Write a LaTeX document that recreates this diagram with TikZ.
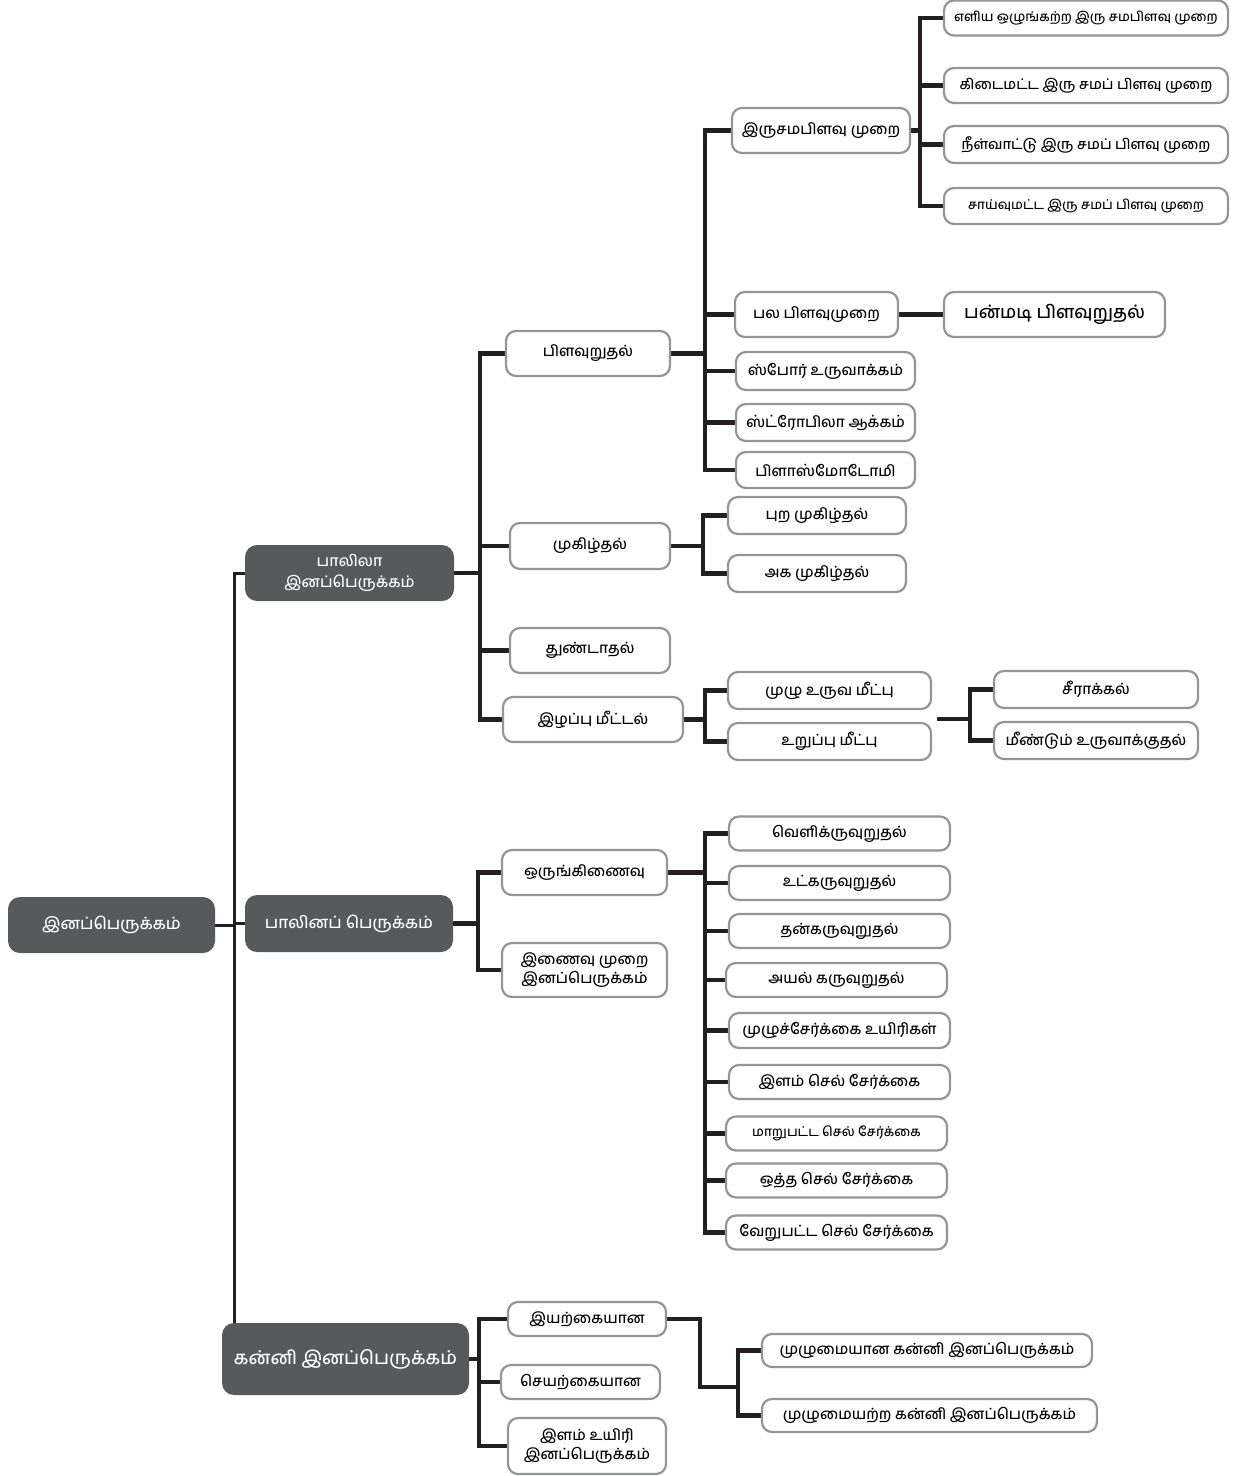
\documentclass[tikz,border=0pt]{standalone}
\usepackage{fontspec}
\setmainfont[Script=Tamil, UprightFont=* Medium]{Hind Madurai}
\usetikzlibrary{backgrounds}
\definecolor{boxgray}{HTML}{939598}
\definecolor{darkbox}{HTML}{58595B}
\definecolor{lineblack}{HTML}{231F20}
\begin{document}
\begin{tikzpicture}[x=1pt,y=-1pt,
  wbox/.style={draw=boxgray, line width=2.2pt, rounded corners=10pt, fill=white, inner sep=0pt, align=center, text=black, font=\fontsize{15}{19}\selectfont},
  dbox/.style={fill=darkbox, rounded corners=12pt, inner sep=0pt, align=center, text=white, font=\fontsize{16.5}{21}\selectfont},
  conn/.style={line width=4.5pt, draw=lineblack},
  rconn/.style={line width=3pt, draw=lineblack}]
\useasboundingbox (0,0) rectangle (1240,1476);
% level 0 / 1
\node[dbox, minimum width=207, minimum height=56] (root) at (111.5,925) {இனப்பெருக்கம்};
\node[dbox, minimum width=209, minimum height=56, font=\fontsize{15.5}{21}\selectfont] (palila) at (349.5,573) {பாலிலா\\இனப்பெருக்கம்};
\node[dbox, minimum width=208, minimum height=57] (palinap) at (349,923.5) {பாலினப் பெருக்கம்};
\node[dbox, minimum width=247, minimum height=72, font=\fontsize{18.5}{24}\selectfont] (kanni) at (345.5,1359) {கன்னி இனப்பெருக்கம்};
% asexual
\node[wbox, minimum width=164, minimum height=45] (pilavu) at (588,353.5) {பிளவுறுதல்};
\node[wbox, minimum width=160, minimum height=46] (mukil) at (590,546) {முகிழ்தல்};
\node[wbox, minimum width=160, minimum height=45] (thund) at (590,650.5) {துண்டாதல்};
\node[wbox, minimum width=180, minimum height=45] (ilappu) at (593,719.5) {இழப்பு மீட்டல்};
\node[wbox, minimum width=178, minimum height=45] (irusama) at (821,130.5) {இருசமபிளவு முறை};
\node[wbox, minimum width=163, minimum height=45] (pala) at (816.5,314.5) {பல பிளவுமுறை};
\node[wbox, minimum width=179, minimum height=38] (spore) at (825.5,371) {ஸ்போர் உருவாக்கம்};
\node[wbox, minimum width=179, minimum height=37] (strob) at (825.5,422.5) {ஸ்ட்ரோபிலா ஆக்கம்};
\node[wbox, minimum width=179, minimum height=36] (plasmo) at (825.5,470) {பிளாஸ்மோடோமி};
\node[wbox, minimum width=284, minimum height=35, font=\fontsize{13.2}{17}\selectfont] (e1) at (1086,18) {எளிய ஒழுங்கற்ற இரு சமபிளவு முறை};
\node[wbox, minimum width=284, minimum height=35, font=\fontsize{14.3}{17}\selectfont] (e2) at (1086,85.5) {கிடைமட்ட இரு சமப் பிளவு முறை};
\node[wbox, minimum width=284, minimum height=37, font=\fontsize{14.3}{17}\selectfont] (e3) at (1086,144.5) {நீள்வாட்டு இரு சமப் பிளவு முறை};
\node[wbox, minimum width=284, minimum height=36, font=\fontsize{13.2}{17}\selectfont] (e4) at (1086,206) {சாய்வுமட்ட இரு சமப் பிளவு முறை};
\node[wbox, minimum width=221, minimum height=45, font=\fontsize{18}{23}\selectfont] (panmadi) at (1054.5,314.5) {பன்மடி பிளவுறுதல்};
\node[wbox, minimum width=178, minimum height=37] (pura) at (817,515.5) {புற முகிழ்தல்};
\node[wbox, minimum width=178, minimum height=37] (aga) at (817,573.5) {அக முகிழ்தல்};
\node[wbox, minimum width=203, minimum height=37] (muzhu) at (829.5,690.5) {முழு உருவ மீட்பு};
\node[wbox, minimum width=203, minimum height=37] (uruppu) at (829.5,741.5) {உறுப்பு மீட்பு};
\node[wbox, minimum width=204, minimum height=37] (seer) at (1096,689.5) {சீராக்கல்};
\node[wbox, minimum width=204, minimum height=37] (meendum) at (1096,740.5) {மீண்டும் உருவாக்குதல்};
% sexual
\node[wbox, minimum width=165, minimum height=45] (orung) at (584.5,872.5) {ஒருங்கிணைவு};
\node[wbox, minimum width=165, minimum height=54] (inaivu) at (584.5,970) {இணைவு முறை\\இனப்பெருக்கம்};
\node[wbox, minimum width=221, minimum height=34] (s1) at (839.5,833.5) {வெளிக்ருவுறுதல்};
\node[wbox, minimum width=221, minimum height=34] (s2) at (839.5,883) {உட்கருவுறுதல்};
\node[wbox, minimum width=221, minimum height=34] (s3) at (839.5,931) {தன்கருவுறுதல்};
\node[wbox, minimum width=221, minimum height=34] (s4) at (836.5,980) {அயல் கருவுறுதல்};
\node[wbox, minimum width=221, minimum height=35] (s5) at (839.5,1030.5) {முழுச்சேர்க்கை உயிரிகள்};
\node[wbox, minimum width=221, minimum height=34] (s6) at (839.5,1082) {இளம் செல் சேர்க்கை};
\node[wbox, minimum width=221, minimum height=34, font=\fontsize{13.2}{17}\selectfont] (s7) at (836.5,1133.5) {மாறுபட்ட செல் சேர்க்கை};
\node[wbox, minimum width=221, minimum height=34] (s8) at (836.5,1180.5) {ஒத்த செல் சேர்க்கை};
\node[wbox, minimum width=221, minimum height=34] (s9) at (836.5,1232.5) {வேறுபட்ட செல் சேர்க்கை};
% parthenogenesis
\node[wbox, minimum width=158, minimum height=34] (iyark) at (587,1319) {இயற்கையான};
\node[wbox, minimum width=159, minimum height=34] (seyark) at (580.5,1382) {செயற்கையான};
\node[wbox, minimum width=158, minimum height=56] (ilam) at (587,1446) {இளம் உயிரி\\இனப்பெருக்கம்};
\node[wbox, minimum width=330, minimum height=33] (mk1) at (927,1350.5) {முழுமையான கன்னி இனப்பெருக்கம்};
\node[wbox, minimum width=335, minimum height=33] (mk2) at (929.5,1415.5) {முழுமையற்ற கன்னி இனப்பெருக்கம்};
% junction coordinates
\coordinate (jr) at (234,0);
\coordinate (ja) at (480,0);
\coordinate (jp) at (705,0);
\coordinate (ji) at (920,0);
\coordinate (jm) at (703,0);
\coordinate (jl) at (705,0);
\coordinate (rg) at (937,719);
\coordinate (jg) at (970,0);
\coordinate (js) at (478,0);
\coordinate (jo) at (705,0);
\coordinate (jk) at (479,0);
\coordinate (jy) at (700,1387);
\coordinate (jz) at (738,1387);
\begin{scope}[on background layer]
\draw[rconn] (root.east) -| (jr |- palila.west) -- (palila.west);
\draw[rconn] (root.east) -| (jr |- palinap.west) -- (palinap.west);
\draw[rconn] (root.east) -| (jr |- kanni.north);
\foreach \c in {pilavu,mukil,thund,ilappu}
  \draw[conn] (palila.east) -| (ja |- \c.west) -- (\c.west);
\foreach \c in {irusama,pala,spore,strob,plasmo}
  \draw[conn] (pilavu.east) -| (jp |- \c.west) -- (\c.west);
\foreach \c in {e1,e2,e3,e4}
  \draw[conn] (irusama.east) -| (ji |- \c.west) -- (\c.west);
\draw[conn] (pala.east) -- (panmadi.west);
\foreach \c in {pura,aga}
  \draw[conn] (mukil.east) -| (jm |- \c.west) -- (\c.west);
\foreach \c in {muzhu,uruppu}
  \draw[conn] (ilappu.east) -| (jl |- \c.west) -- (\c.west);
\foreach \c in {seer,meendum}
  \draw[conn] (rg) -| (jg |- \c.west) -- (\c.west);
\foreach \c in {orung,inaivu}
  \draw[conn] (palinap.east) -| (js |- \c.west) -- (\c.west);
\foreach \c in {s1,s2,s3,s4,s5,s6,s7,s8,s9}
  \draw[conn] (orung.east) -| (jo |- \c.west) -- (\c.west);
\foreach \c in {iyark,seyark,ilam}
  \draw[conn] (kanni.east) -| (jk |- \c.west) -- (\c.west);
\draw[conn] (iyark.east) -| (jy) -- (jz);
\draw[conn] (jz) |- (mk1.west);
\draw[conn] (jz) |- (mk2.west);
\end{scope}
\end{tikzpicture}
\end{document}
